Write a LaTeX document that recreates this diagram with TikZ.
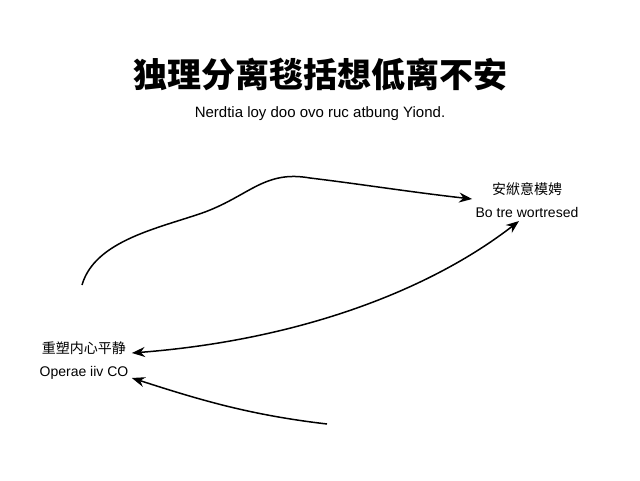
\documentclass[tikz,border=0pt]{standalone}
\usepackage{fontspec}
\setmainfont{Liberation Sans}
\newfontfamily\cjk{Noto Sans CJK SC}
\usetikzlibrary{arrows.meta}
\begin{document}
\begin{tikzpicture}[x=1pt, y=-1pt, >={Stealth[length=13pt,width=10pt]},
    curve/.style={line width=1.5pt}]
      \useasboundingbox (0, 0) rectangle (640, 480);

      \node (title) at (320, 75) {\cjk\bfseries\fontsize{34}{38}\selectfont 独理分离毯括想低离不安};
      \node (sub) at (320, 114) {\fontsize{15}{17}\selectfont Nerdtia loy doo ovo ruc atbung Yiond.};

      \node[align=center, font=\fontsize{14}{23}\selectfont] (calm) at (527, 200) {{\cjk 安絥意模娉}\\Bo tre wortresed};
      \node[align=center, font=\fontsize{14}{23}\selectfont] (peace) at (84, 361) {{\cjk 重塑内心平静}\\Operae iiv CO};

      \coordinate (start) at (82, 285);
      \coordinate (low) at (327, 424);

      \draw[->, curve] (start) .. controls (95, 240) and (160, 228) .. (205, 212)
        .. controls (250, 195) and (265, 170) .. (310, 178)
        .. controls (360, 184) and (410, 192) .. (calm.west |- 0, 199);
      \draw[<->, curve] (peace.east |- 0, 353) .. controls (300, 340) and (430, 290) .. (calm.south -| 519, 0);
      \draw[->, curve] (low) .. controls (250, 415) and (200, 400) .. (peace.east |- 0, 378);
    \end{tikzpicture}
\end{document}
